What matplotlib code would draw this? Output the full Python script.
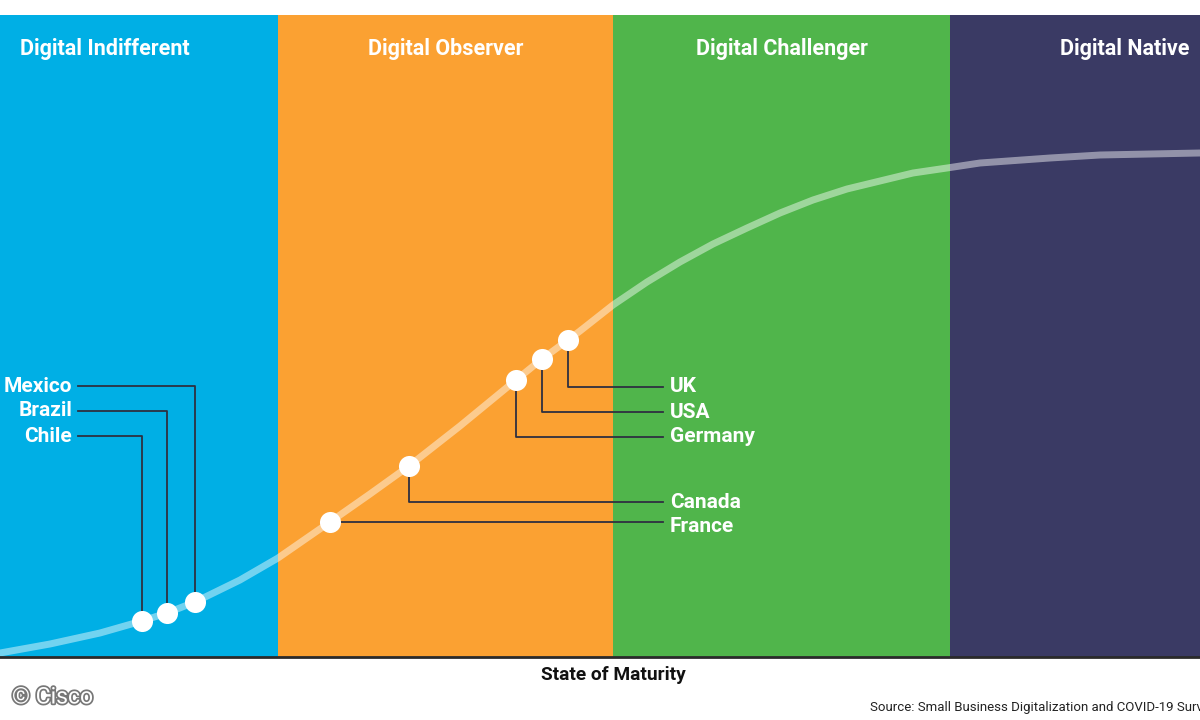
import matplotlib
matplotlib.use("Agg")
import matplotlib.pyplot as plt
import matplotlib.patheffects as pe

# ---- data ----
stages = ["Digital Indifferent", "Digital Observer", "Digital Challenger", "Digital Native"]
stage_edges = [0, 278, 613, 950, 1200]
stage_colors = ["#00AFE5", "#FBA132", "#50B54B", "#3A3A64"]

curve_x = [0, 50, 100, 142, 167, 195, 240, 278, 330, 370, 409, 460, 516, 542, 568, 580, 613,
           647, 680, 713, 747, 780, 813, 847, 880, 913, 947, 980, 1050, 1100, 1150, 1200]
curve_y = [4, 13, 24, 36, 44, 55, 77, 99, 135, 163, 191, 231, 277, 298, 317, 326, 352,
           375, 395, 413, 429, 444, 457, 468, 476, 484, 489, 494, 499, 502, 503, 504]

countries = ["Chile", "Brazil", "Mexico", "France", "Canada", "Germany", "USA", "UK"]
country_x = [142, 167, 195, 330, 409, 516, 542, 568]
country_y = [36, 44, 55, 135, 191, 277, 298, 317]

# label placement (layout)
label_side = ["left", "left", "left", "right", "right", "right", "right", "right"]
label_y = [221, 246, 271, 131, 155, 220, 245, 270]
elbow_y = [221, 246, 271, 135, 155, 220, 245, 270]

fig = plt.figure(figsize=(12, 7.2), dpi=100)
fig.patch.set_facecolor("white")
ax = fig.add_axes([0, 63 / 720, 1, 642 / 720])
ax.set_xlim(0, 1200)
ax.set_ylim(0, 642)
ax.axis("off")

hfs = 15.5
for i, name in enumerate(stages):
    ax.axvspan(stage_edges[i], stage_edges[i + 1], color=stage_colors[i], zorder=0, lw=0)
    if i == 0:
        ax.text(20, 608, name, color="white", fontsize=hfs, fontweight="bold",
                ha="left", va="center", family="Roboto")
    elif i == len(stages) - 1:
        ax.text(1190, 608, name, color="white", fontsize=hfs, fontweight="bold",
                ha="right", va="center", family="Roboto")
    else:
        ax.text((stage_edges[i] + stage_edges[i + 1]) / 2, 608, name, color="white",
                fontsize=hfs, fontweight="bold", ha="center", va="center", family="Roboto")

ax.plot(curve_x, curve_y, color="white", alpha=0.45, lw=5, solid_capstyle="round",
        solid_joinstyle="round", zorder=2)

line_col = "#2E3040"
lfs = 15
for name, x, y, side, ly, ey in zip(countries, country_x, country_y, label_side, label_y, elbow_y):
    if side == "left":
        ax.plot([78, x, x], [ey, ey, y], color=line_col, lw=1.3, zorder=3)
        ax.text(72, ly, name, color="white", fontsize=lfs, fontweight="bold",
                ha="right", va="center", family="Roboto")
    else:
        ax.plot([x, x, 663], [y, ey, ey], color=line_col, lw=1.3, zorder=3)
        ax.text(670, ly, name, color="white", fontsize=lfs, fontweight="bold",
                ha="left", va="center", family="Roboto")

ax.scatter(country_x, country_y, s=230, color="white", zorder=4, lw=0)

# bottom baseline
fig.add_artist(plt.Line2D([0, 1], [63 / 720, 63 / 720], color="#2A2A2A", lw=2,
                          transform=fig.transFigure))

fig.text(613 / 1200, 1 - 675 / 720, "State of Maturity", ha="center", va="center",
         fontsize=13.8, fontweight="bold", color="#111111", family="Roboto")
fig.text(870 / 1200, 1 - 708 / 720, "Source: Small Business Digitalization and COVID-19 Survey",
         ha="left", va="center", fontsize=9.5, color="#222222", family="Roboto")
fig.text(12 / 1200, 1 - 697 / 720, "© Cisco", ha="left", va="center", fontsize=16.5,
         color="white", family="Roboto",
         path_effects=[pe.withStroke(linewidth=2.5, foreground="#777777")])

fig.savefig("out.png", dpi=100, facecolor="white")
